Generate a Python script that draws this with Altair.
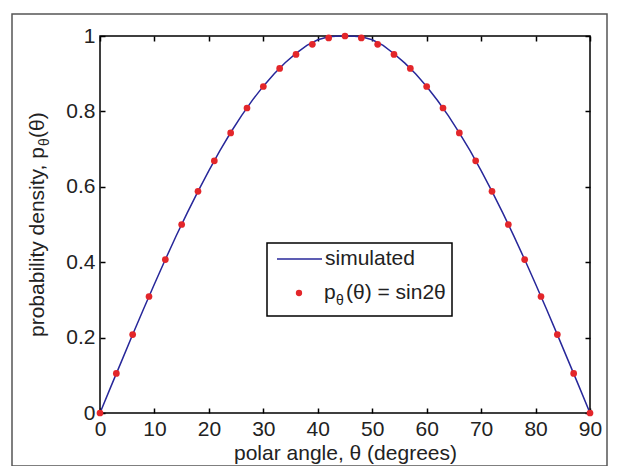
import altair as alt
import pandas as pd

# ---- data ----
theta_sim = [0, 2, 4, 6, 8, 10, 12, 14, 16, 18, 20, 22, 24, 26, 28, 30, 32, 34, 36, 38, 40, 42, 44,
             46, 48, 50, 52, 54, 56, 58, 60, 62, 64, 66, 68, 70, 72, 74, 76, 78, 80, 82, 84, 86, 88, 90]
p_sim = [0.0, 0.07, 0.139, 0.208, 0.276, 0.342, 0.407, 0.47, 0.53, 0.588, 0.643, 0.695, 0.744,
         0.789, 0.83, 0.867, 0.9, 0.929, 0.954, 0.975, 0.99, 0.998, 1.0,
         1.0, 0.998, 0.99, 0.975, 0.953, 0.928, 0.899, 0.866, 0.829, 0.788, 0.743, 0.695, 0.643,
         0.588, 0.53, 0.47, 0.407, 0.342, 0.276, 0.208, 0.139, 0.07, 0.0]
theta_pts = [0, 3, 6, 9, 12, 15, 18, 21, 24, 27, 30, 33, 36, 39, 42, 45, 48, 51, 54, 57, 60, 63,
             66, 69, 72, 75, 78, 81, 84, 87, 90]
p_pts = [0.0, 0.105, 0.208, 0.309, 0.407, 0.5, 0.588, 0.669, 0.743, 0.809, 0.866, 0.914, 0.951,
         0.978, 0.995, 1.0, 0.995, 0.978, 0.951, 0.914, 0.866, 0.809, 0.743, 0.669, 0.588, 0.5,
         0.407, 0.309, 0.208, 0.105, 0.0]
x_ticks = [0, 10, 20, 30, 40, 50, 60, 70, 80, 90]
y_ticks = [0, 0.2, 0.4, 0.6, 0.8, 1]
x_title = "polar angle, θ (degrees)"
y_title_parts = ["probability density, p", "θ", "(θ)"]
legend_labels = ["simulated", "p", "θ", "(θ) = sin2θ"]

FONT = "Liberation Sans"
FS = 21
TXT = "#222222"
BLUE = "#27279a"
RED = "#e3262a"

sim_df = pd.DataFrame({"theta": theta_sim, "p": p_sim})
pts_df = pd.DataFrame({"theta": theta_pts, "p": p_pts})

xscale = alt.Scale(domain=[0, 90], nice=False, zero=False)
yscale = alt.Scale(domain=[0, 1], nice=False, zero=False)


def ax(orient, values, fmt, labels=True, title=None, pad=6):
    kw = dict(orient=orient, values=values, offset=-5, tickSize=5, tickWidth=1.5,
              tickColor="black", domain=False, grid=False, labels=labels, format=fmt,
              labelFont=FONT, labelFontSize=FS, labelColor=TXT, labelPadding=pad,
              labelFlush=False, labelOverlap=False)
    if title is not None:
        kw.update(title=title, titleFont=FONT, titleFontSize=FS, titleFontWeight="normal",
                  titleColor=TXT, titlePadding=3)
    else:
        kw.update(title=None)
    return alt.Axis(**kw)


one = pd.DataFrame({"a": [0]})

frame = alt.Chart(one).mark_rect(
    fillOpacity=0, stroke="#555555", strokeWidth=1.5
).encode(x=alt.value(-88), x2=alt.value(507), y=alt.value(-22), y2=alt.value(430))

line = alt.Chart(sim_df).mark_line(color=BLUE, strokeWidth=1.5).encode(
    x=alt.X("theta:Q", scale=xscale, axis=ax("bottom", x_ticks, "d", title=x_title, pad=5)),
    y=alt.Y("p:Q", scale=yscale, axis=ax("left", y_ticks, "~r", pad=5)),
)

pts = alt.Chart(pts_df).mark_point(filled=True, shape="circle", size=45, color=RED,
                                    opacity=1).encode(
    x=alt.X("theta:Q", scale=xscale, axis=ax("top", x_ticks, "d", labels=False)),
    y=alt.Y("p:Q", scale=yscale, axis=ax("right", y_ticks, "~r", labels=False)),
)

# y-axis title with subscript, drawn as rotated text pieces
yt1 = alt.Chart(one).mark_text(text=y_title_parts[0], font=FONT, fontSize=FS, color=TXT,
                               angle=270, align="left", baseline="alphabetic").encode(
    x=alt.value(-56), y=alt.value(301))
yt2 = alt.Chart(one).mark_text(text=y_title_parts[1], font=FONT, fontSize=14, color=TXT,
                               angle=270, align="left", baseline="alphabetic").encode(
    x=alt.value(-51), y=alt.value(110))
yt3 = alt.Chart(one).mark_text(text=y_title_parts[2], font=FONT, fontSize=FS, color=TXT,
                               angle=270, align="left", baseline="alphabetic").encode(
    x=alt.value(-56), y=alt.value(102))

# legend
leg_box = alt.Chart(one).mark_rect(fill="white", stroke="black", strokeWidth=1.5).encode(
    x=alt.value(167), x2=alt.value(352), y=alt.value(207), y2=alt.value(280))
leg_line = alt.Chart(one).mark_rule(color=BLUE, strokeWidth=1.5).encode(
    x=alt.value(177), x2=alt.value(222), y=alt.value(223))
leg_t1 = alt.Chart(one).mark_text(text=legend_labels[0], font=FONT, fontSize=FS, color=TXT,
                                  align="left", baseline="middle").encode(
    x=alt.value(225), y=alt.value(223))
leg_dot = alt.Chart(one).mark_point(filled=True, shape="circle", size=40, color=RED,
                                    opacity=1).encode(x=alt.value(199), y=alt.value(257))
leg_p = alt.Chart(one).mark_text(text=legend_labels[1], font=FONT, fontSize=FS, color=TXT,
                                 align="left", baseline="middle").encode(
    x=alt.value(224), y=alt.value(257))
leg_sub = alt.Chart(one).mark_text(text=legend_labels[2], font=FONT, fontSize=14, color=TXT,
                                   align="left", baseline="middle").encode(
    x=alt.value(236), y=alt.value(265))
leg_t2 = alt.Chart(one).mark_text(text=legend_labels[3], font=FONT, fontSize=FS, color=TXT,
                                  align="left", baseline="middle").encode(
    x=alt.value(246), y=alt.value(257))

chart = alt.layer(
    frame, line, pts, yt1, yt2, yt3,
    leg_box, leg_line, leg_t1, leg_dot, leg_p, leg_sub, leg_t2
).resolve_axis(x="independent", y="independent").properties(
    width=490, height=377,
    autosize=alt.AutoSizeParams(type="none"),
    padding={"left": 92, "top": 28, "right": 20, "bottom": 53},
    background="white",
).configure_view(stroke="black", strokeWidth=1.5)

chart.save("out.html", embed_options={"renderer": "svg", "actions": False})
